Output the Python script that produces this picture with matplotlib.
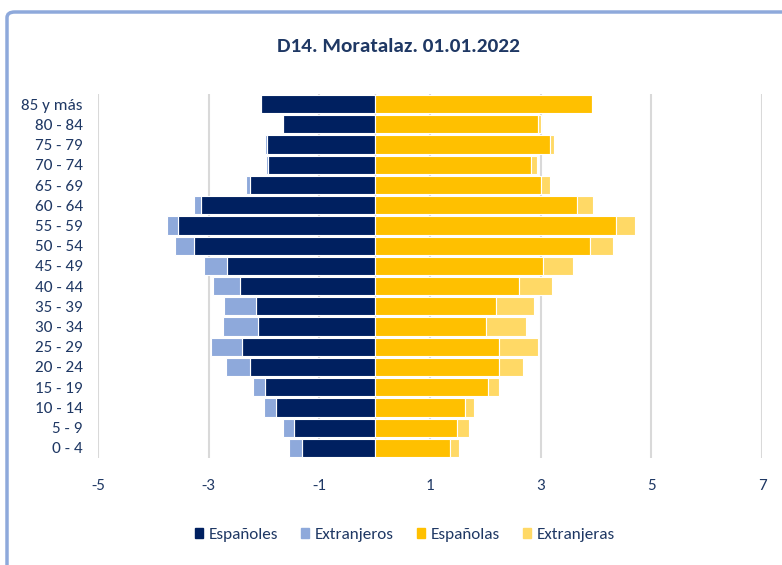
import matplotlib
matplotlib.use("Agg")
import matplotlib.pyplot as plt
from matplotlib.patches import FancyBboxPatch, Patch

# Data (top-to-bottom order as shown: 85 y más first)
ages = ["85 y más", "80 - 84", "75 - 79", "70 - 74", "65 - 69", "60 - 64", "55 - 59",
        "50 - 54", "45 - 49", "40 - 44", "35 - 39", "30 - 34", "25 - 29", "20 - 24",
        "15 - 19", "10 - 14", "5 - 9", "0 - 4"]
espanoles = [2.06, 1.66, 1.94, 1.92, 2.25, 3.13, 3.55, 3.27, 2.66, 2.43, 2.14, 2.10,
             2.39, 2.26, 1.99, 1.79, 1.46, 1.32]
extranjeros = [0.01, 0.01, 0.04, 0.04, 0.08, 0.13, 0.21, 0.34, 0.43, 0.49, 0.58, 0.64,
               0.56, 0.42, 0.21, 0.21, 0.19, 0.22]
espanolas = [3.92, 2.96, 3.17, 2.83, 3.00, 3.66, 4.36, 3.89, 3.04, 2.61, 2.19, 2.02,
             2.25, 2.24, 2.04, 1.63, 1.48, 1.36]
extranjeras = [0.01, 0.04, 0.07, 0.10, 0.16, 0.28, 0.35, 0.41, 0.54, 0.60, 0.69, 0.72,
               0.70, 0.44, 0.20, 0.17, 0.23, 0.17]
xticks = [-5, -3, -1, 1, 3, 5, 7]
title = "D14. Moratalaz. 01.01.2022"

c_esp_m = "#002060"
c_ext_m = "#8EA9DB"
c_esp_f = "#FFC000"
c_ext_f = "#FFD966"
txt = "#1F3864"
plt.rcParams["font.family"] = ["Carlito", "DejaVu Sans"]

fig = plt.figure(figsize=(7.82, 5.65), dpi=100)
ax = fig.add_axes([98 / 782, 1 - 458 / 565, (762 - 98) / 782, (458 - 94) / 565])

n = len(ages)
y = [n - 1 - i for i in range(n)]
h = 0.9
kw = dict(height=h, edgecolor="white", linewidth=0.8, zorder=3)
ax.barh(y, [-v for v in espanoles], color=c_esp_m, **kw)
ax.barh(y, [-v for v in extranjeros], left=[-v for v in espanoles], color=c_ext_m, **kw)
ax.barh(y, espanolas, color=c_esp_f, **kw)
ax.barh(y, extranjeras, left=espanolas, color=c_ext_f, **kw)

ax.set_xlim(-5, 7)
ax.set_ylim(-0.5, n - 0.5)
ax.set_xticks(xticks)
ax.set_xticklabels([str(t) for t in xticks])
ax.set_yticks(y)
ax.set_yticklabels(ages)
for t in xticks:
    ax.axvline(t, color="#D9D9D9", linewidth=1.5, zorder=1)
ax.axvline(0, color="#D9D9D9", linewidth=1.0, zorder=2)
for s in ax.spines.values():
    s.set_visible(False)
ax.tick_params(axis="both", length=0, labelsize=12.3, colors=txt)
ax.tick_params(axis="x", pad=15)
ax.tick_params(axis="y", pad=11)

fig.text(399 / 782, 1 - 46 / 565, title, ha="center", va="center",
         fontsize=15.3, fontweight="bold", color=txt)

handles = [Patch(color=c_esp_m, label="Españoles"), Patch(color=c_ext_m, label="Extranjeros"),
           Patch(color=c_esp_f, label="Españolas"), Patch(color=c_ext_f, label="Extranjeras")]
fig.legend(handles=handles, loc="center", bbox_to_anchor=(405 / 782, 1 - 535 / 565),
           ncol=4, frameon=False, fontsize=12.3, handlelength=0.45, handleheight=0.45,
           handletextpad=0.35, columnspacing=1.35, labelcolor=txt, borderaxespad=0)

border = FancyBboxPatch((7 / 782, -0.2), 1.2, 1.2 - 12 / 565,
                        boxstyle="round,pad=0,rounding_size=0.01",
                        transform=fig.transFigure, fill=False,
                        edgecolor="#8EA9DB", linewidth=2.5, clip_on=False)
fig.patches.append(border)

fig.savefig("out.png", dpi=100)
